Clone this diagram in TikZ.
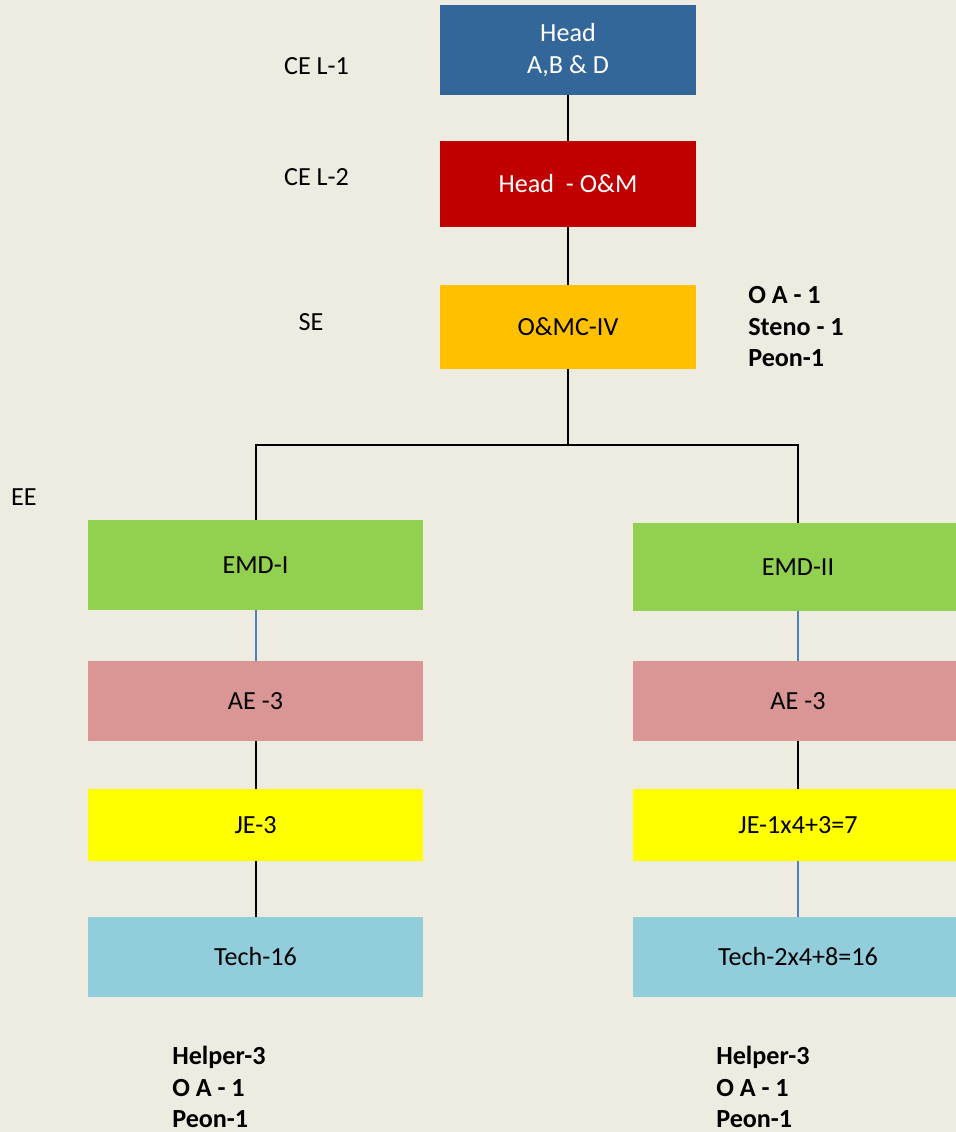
\documentclass[tikz,border=0pt]{standalone}
\usepackage{fontspec}
\setmainfont{Carlito}
\definecolor{bgc}{RGB}{238,236,225}
\definecolor{headblue}{RGB}{51,103,153}
\definecolor{headred}{RGB}{192,0,0}
\definecolor{gold}{RGB}{255,192,0}
\definecolor{lgreen}{RGB}{146,208,80}
\definecolor{pinkc}{RGB}{218,150,148}
\definecolor{yel}{RGB}{255,255,0}
\definecolor{lblue}{RGB}{146,205,220}
\definecolor{linkblue}{RGB}{79,129,189}
\begin{document}
\begin{tikzpicture}[x=0.75pt,y=-0.75pt,
  every node/.style={font=\fontsize{19.6}{23.4}\selectfont},
  box/.style={rectangle,draw=none,inner sep=0pt,minimum width=256*0.75pt,align=center},
  widebox/.style={rectangle,draw=none,inner sep=0pt,minimum width=335*0.75pt,align=center},
  rbox/.style={rectangle,draw=none,inner sep=0pt,minimum width=330*0.75pt,align=center},
  lbl/.style={inner sep=0pt},
  side/.style={inner sep=0pt,anchor=base west,font=\fontsize{19.6}{23.4}\selectfont\bfseries},
  blk/.style={line width=1.5pt,black},
  blu/.style={line width=1.5pt,linkblue}]
\clip (0,0) rectangle (956,1132);
\fill[bgc] (0,0) rectangle (956,1132);
% top column
\node[box,fill=headblue,text=white,minimum height=90*0.75pt] (head) at (568,50) {Head\\A,B \& D};
\node[box,fill=headred,text=white,minimum height=86*0.75pt] (hom) at (568,184) {Head\ \ - O\&M};
\node[box,fill=gold,minimum height=84*0.75pt] (omc) at (568,327) {O\&MC-IV};
% left column
\node[widebox,fill=lgreen,minimum height=90*0.75pt] (emd1) at (255.5,565) {EMD-I};
\node[widebox,fill=pinkc,minimum height=80*0.75pt] (ae1) at (255.5,701) {AE -3};
\node[widebox,fill=yel,minimum height=72*0.75pt] (je1) at (255.5,825) {JE-3};
\node[widebox,fill=lblue,minimum height=80*0.75pt] (tech1) at (255.5,957) {Tech-16};
% right column
\node[rbox,fill=lgreen,minimum height=88*0.75pt] (emd2) at (798,567) {EMD-II};
\node[rbox,fill=pinkc,minimum height=80*0.75pt] (ae2) at (798,701) {AE -3};
\node[rbox,fill=yel,minimum height=72*0.75pt] (je2) at (798,825) {JE-1x4+3=7};
\node[rbox,fill=lblue,minimum height=80*0.75pt] (tech2) at (798,957) {Tech-2x4+8=16};
% connectors
\coordinate (split) at (568,445);
\draw[blk] (head) -- (hom);
\draw[blk] (hom) -- (omc);
\draw[blk] (omc) -- (split);
\draw[blk] (split) -| (emd1);
\draw[blk] (split) -| (emd2);
\draw[blu] (emd1) -- (ae1);
\draw[blk] (ae1) -- (je1);
\draw[blk] (je1) -- (tech1);
\draw[blu] (emd2) -- (ae2);
\draw[blk] (ae2) -- (je2);
\draw[blu] (je2) -- (tech2);
% level labels
\node[lbl] (l1) at (316.5,66) {CE L-1};
\node[lbl] (l2) at (316.5,177) {CE L-2};
\node[lbl] (l3) at (311,322) {SE};
\node[lbl] (l4) at (24,497) {EE};
% staff notes
\node[side] (s1) at (748,303) {O A - 1};
\node[side] (s2) at (748,335) {Steno - 1};
\node[side] (s3) at (748,366) {Peon-1};
\node[side] (a1) at (172,1064) {Helper-3};
\node[side] (a2) at (172,1096) {O A - 1};
\node[side] (a3) at (172,1127) {Peon-1};
\node[side] (b1) at (716,1064) {Helper-3};
\node[side] (b2) at (716,1096) {O A - 1};
\node[side] (b3) at (716,1127) {Peon-1};
\end{tikzpicture}
\end{document}
